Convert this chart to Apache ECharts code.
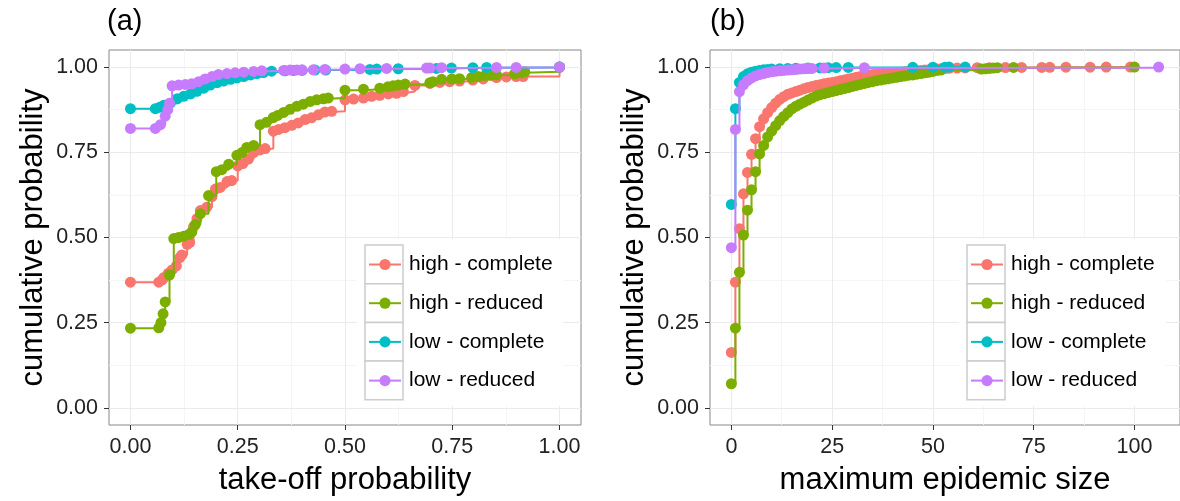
<!DOCTYPE html>
<html><head><meta charset="utf-8">
<script src="https://cdn.jsdelivr.net/npm/echarts@6/dist/echarts.min.js"></script>
<style>html,body{margin:0;padding:0;background:#fff}#chart{width:1180px;height:501px}</style>
</head><body><div id="chart"></div>
<script>
// ---------- data ----------
const seriesNames = ['high - complete', 'high - reduced', 'low - complete', 'low - reduced'];
const seriesColors = ['#F8766D', '#7CAE00', '#00BFC4', '#C77CFF'];

const aXTicks = [0, 0.25, 0.5, 0.75, 1];
const aXMinor = [0.125, 0.375, 0.625, 0.875];
const yTicks = [0, 0.25, 0.5, 0.75, 1];
const yMinor = [0.125, 0.375, 0.625, 0.875];
const bXTicks = [0, 25, 50, 75, 100];
const bXMinor = [12.5, 37.5, 62.5, 87.5];

// panel (a): take-off probability
const aHighComplete = [[0,0.369],[0.066,0.369],[0.074,0.376],[0.078,0.383],[0.088,0.395],[0.097,0.405],[0.107,0.417],[0.115,0.441],[0.12,0.449],[0.132,0.48],[0.138,0.485],[0.147,0.531],[0.155,0.555],[0.163,0.579],[0.178,0.589],[0.19,0.62],[0.198,0.642],[0.209,0.647],[0.225,0.664],[0.236,0.667],[0.25,0.71],[0.262,0.717],[0.275,0.73],[0.287,0.749],[0.302,0.757],[0.314,0.761],[0.333,0.812],[0.345,0.817],[0.36,0.822],[0.376,0.829],[0.391,0.836],[0.407,0.846],[0.422,0.851],[0.438,0.86],[0.453,0.868],[0.469,0.87],[0.5,0.904],[0.52,0.906],[0.543,0.909],[0.562,0.914],[0.581,0.917],[0.601,0.921],[0.62,0.923],[0.636,0.928],[0.663,0.946],[0.698,0.952],[0.721,0.955],[0.744,0.957],[0.767,0.959],[0.798,0.962],[0.822,0.965],[0.853,0.969],[0.876,0.971],[0.899,0.972],[0.915,0.972],[1.0,1.0]];
const aHighReduced = [[0,0.234],[0.066,0.235],[0.071,0.25],[0.076,0.276],[0.081,0.311],[0.091,0.39],[0.101,0.497],[0.112,0.5],[0.124,0.504],[0.136,0.509],[0.143,0.516],[0.151,0.538],[0.163,0.57],[0.182,0.623],[0.2,0.693],[0.213,0.699],[0.229,0.715],[0.248,0.741],[0.26,0.749],[0.271,0.764],[0.287,0.77],[0.302,0.831],[0.317,0.838],[0.333,0.852],[0.343,0.858],[0.357,0.867],[0.372,0.876],[0.388,0.885],[0.403,0.891],[0.419,0.899],[0.434,0.904],[0.45,0.907],[0.461,0.909],[0.5,0.932],[0.543,0.935],[0.581,0.938],[0.6,0.942],[0.612,0.945],[0.624,0.947],[0.64,0.95],[0.698,0.954],[0.705,0.957],[0.725,0.964],[0.749,0.965],[0.767,0.966],[0.795,0.969],[0.81,0.972],[0.826,0.975],[0.84,0.976],[0.853,0.977],[0.895,0.98],[0.911,0.983],[0.919,0.986],[1.0,1.0]];
const aLowComplete = [[0,0.878],[0.058,0.878],[0.068,0.882],[0.078,0.888],[0.093,0.894],[0.109,0.907],[0.124,0.914],[0.14,0.921],[0.155,0.929],[0.171,0.938],[0.186,0.947],[0.202,0.954],[0.217,0.959],[0.233,0.964],[0.248,0.968],[0.264,0.972],[0.28,0.977],[0.295,0.981],[0.31,0.984],[0.329,0.988],[0.36,0.989],[0.38,0.99],[0.4,0.99],[0.43,0.991],[0.455,0.991],[0.558,0.993],[0.574,0.994],[0.624,0.995],[0.713,0.996],[0.748,0.997],[0.798,0.998],[0.83,0.999],[1.0,1.0]];
const aLowReduced = [[0,0.82],[0.058,0.82],[0.07,0.831],[0.081,0.856],[0.087,0.875],[0.091,0.894],[0.097,0.945],[0.112,0.947],[0.128,0.949],[0.143,0.951],[0.159,0.957],[0.174,0.965],[0.19,0.972],[0.205,0.978],[0.225,0.981],[0.244,0.983],[0.264,0.985],[0.287,0.987],[0.306,0.989],[0.357,0.99],[0.372,0.991],[0.388,0.991],[0.4,0.992],[0.426,0.992],[0.453,0.993],[0.5,0.994],[0.535,0.995],[0.597,0.996],[0.69,0.997],[0.698,0.997],[0.725,0.998],[0.853,0.999],[0.899,0.999],[1.0,1.0]];

// panel (b): maximum epidemic size
const bHighComplete = [[0,0.163],[1,0.369],[2,0.526],[3,0.628],[4,0.691],[5,0.744],[6,0.79],[7,0.825],[8,0.848],[9,0.866],[10,0.881],[11,0.894],[12,0.905],[13,0.913],[14,0.92],[15,0.924],[16,0.928],[17,0.932],[18,0.936],[19,0.94],[20,0.943],[21,0.946],[22,0.948],[23,0.951],[24,0.953],[25,0.955],[26,0.957],[27,0.96],[28,0.962],[29,0.965],[30,0.967],[31,0.97],[32,0.972],[33,0.974],[34,0.976],[35,0.978],[36,0.979],[37,0.98],[38,0.981],[39,0.982],[40,0.983],[41,0.984],[42,0.985],[43,0.986],[44,0.987],[45,0.988],[46,0.989],[47,0.99],[48,0.991],[49,0.992],[50,0.993],[51,0.994],[52,0.995],[53,0.996],[54,0.9965],[56,0.997],[58,0.9975],[61,0.998],[64,0.9983],[68,0.9986],[72,0.9988],[77,0.999],[79,0.9993],[83,0.9995],[89,0.9997],[93,0.9998],[99,1.0]];
const bHighReduced = [[0,0.071],[1,0.234],[2,0.398],[3,0.507],[4,0.58],[5,0.64],[6,0.693],[7,0.745],[8,0.77],[9,0.795],[10,0.812],[11,0.828],[12,0.843],[13,0.855],[14,0.866],[15,0.877],[16,0.885],[17,0.891],[18,0.897],[19,0.903],[20,0.909],[21,0.915],[22,0.919],[23,0.922],[24,0.925],[25,0.928],[26,0.931],[27,0.934],[28,0.937],[29,0.94],[30,0.943],[31,0.946],[32,0.949],[33,0.952],[34,0.955],[35,0.957],[36,0.96],[37,0.962],[38,0.964],[39,0.966],[40,0.968],[41,0.97],[42,0.972],[43,0.974],[44,0.976],[45,0.977],[46,0.979],[47,0.981],[48,0.983],[49,0.985],[50,0.987],[51,0.99],[52,0.991],[62,0.994],[63,0.995],[64,0.996],[65,0.997],[66,0.998],[70,0.999],[100,1.0]];
const bLowComplete = [[0,0.597],[1,0.878],[2,0.955],[3,0.972],[4,0.98],[5,0.985],[6,0.988],[7,0.99],[8,0.992],[9,0.993],[10,0.994],[12,0.995],[14,0.996],[16,0.9965],[19,0.997],[22,0.9975],[24,0.998],[26,0.9985],[29,0.999],[45,0.9993],[50,0.9995],[53,0.9997],[54,0.9998],[58,1.0]];
const bLowReduced = [[0,0.47],[1,0.817],[2,0.928],[3,0.948],[4,0.96],[5,0.968],[6,0.974],[7,0.978],[8,0.981],[9,0.984],[10,0.986],[11,0.988],[12,0.989],[13,0.99],[14,0.991],[15,0.992],[16,0.993],[17,0.994],[18,0.995],[19,0.9955],[20,0.996],[23,0.997],[33,0.998],[106,1.0]];

const panelA = [aHighComplete, aHighReduced, aLowComplete, aLowReduced];
const panelB = [bHighComplete, bHighReduced, bLowComplete, bLowReduced];

// ---------- chart ----------
const FONT = '"Liberation Sans", Arial, sans-serif';
const chart = echarts.init(document.getElementById('chart'), null, {renderer: 'canvas'});

function mainAxis(gridIndex, min, max, ticks, fmt, name, isY) {
  return {
    type: 'value', gridIndex, min, max, name,
    nameLocation: 'middle', nameGap: isY ? 60 : 40,
    nameTextStyle: {fontSize: 31, color: '#000', fontFamily: FONT},
    axisLine: {show: false, onZero: false},
    axisTick: {show: true, customValues: ticks, length: 5, lineStyle: {color: '#333', width: 1}},
    axisLabel: {customValues: ticks, formatter: fmt, fontSize: 21.5, color: '#222', fontFamily: FONT, margin: isY ? 11 : 11},
    splitLine: {show: true, lineStyle: {color: '#EBEBEB', width: 1}},
    z: 1
  };
}
function minorAxis(gridIndex, min, max, ticks) {
  return {
    type: 'value', gridIndex, min, max,
    axisLine: {show: false, onZero: false},
    axisTick: {show: false, customValues: ticks},
    axisLabel: {show: false, customValues: ticks},
    splitLine: {show: true, lineStyle: {color: '#F5F5F5', width: 1}},
    z: 0
  };
}
const f2 = v => v.toFixed(2);
const f0 = v => String(Math.round(v));

const series = [];
[panelA, panelB].forEach((panel, p) => {
  panel.forEach((data, i) => {
    series.push({
      name: seriesNames[i], type: 'line', step: 'end',
      xAxisIndex: p * 2, yAxisIndex: p * 2,
      data: data,
      symbol: 'circle', symbolSize: 11, showSymbol: true,
      lineStyle: {color: seriesColors[i], width: 2},
      itemStyle: {color: seriesColors[i]},
      emphasis: {disabled: true},
      z: 2 + i
    });
  });
});

function legendDecor(bgLeft, bgRight, keyLeft) {
  const els = [{
    type: 'rect', z: 50,
    shape: {x: bgLeft, y: 239, width: bgRight - bgLeft, height: 167},
    style: {fill: '#fff'}
  }];
  for (let i = 0; i < 4; i++) {
    els.push({
      type: 'rect', z: 51,
      shape: {x: keyLeft, y: 245 + i * 38.7, width: 38, height: 38.7},
      style: {fill: '#fff', stroke: '#CCCCCC', lineWidth: 1.5}
    });
  }
  return els;
}
function legendCfg(left) {
  return {
    data: seriesNames, left: left, top: 252.5, orient: 'vertical',
    itemWidth: 32, itemHeight: 14, itemGap: 14.7, padding: 0,
    selectedMode: false, z: 60,
    textStyle: {fontSize: 21, lineHeight: 24, color: '#000', fontFamily: FONT, padding: [0, 0, 0, 3]}
  };
}

chart.setOption({
  animation: false,
  backgroundColor: '#fff',
  textStyle: {fontFamily: FONT},
  title: [
    {text: '(a)', left: 102, top: 2, padding: 5, textStyle: {fontSize: 29, fontWeight: 'normal', color: '#000', fontFamily: FONT}},
    {text: '(b)', left: 705, top: 2, padding: 5, textStyle: {fontSize: 29, fontWeight: 'normal', color: '#000', fontFamily: FONT}}
  ],
  grid: [
    {left: 109, top: 50, width: 472, height: 378, show: true, borderColor: '#888', borderWidth: 1, backgroundColor: '#fff'},
    {left: 710, top: 50, width: 472, height: 378, show: true, borderColor: '#888', borderWidth: 1, backgroundColor: '#fff'}
  ],
  xAxis: [
    mainAxis(0, -0.05, 1.05, aXTicks, f2, 'take-off probability', false),
    minorAxis(0, -0.05, 1.05, aXMinor),
    mainAxis(1, -5.3, 111.3, bXTicks, f0, 'maximum epidemic size', false),
    minorAxis(1, -5.3, 111.3, bXMinor)
  ],
  yAxis: [
    mainAxis(0, -0.05, 1.05, yTicks, f2, 'cumulative probability', true),
    minorAxis(0, -0.05, 1.05, yMinor),
    mainAxis(1, -0.05, 1.05, yTicks, f2, 'cumulative probability', true),
    minorAxis(1, -0.05, 1.05, yMinor)
  ],
  legend: [legendCfg(368), legendCfg(970)],
  graphic: {elements: legendDecor(357, 563, 365).concat(legendDecor(959, 1166, 967))},
  series: series
});
</script></body></html>
